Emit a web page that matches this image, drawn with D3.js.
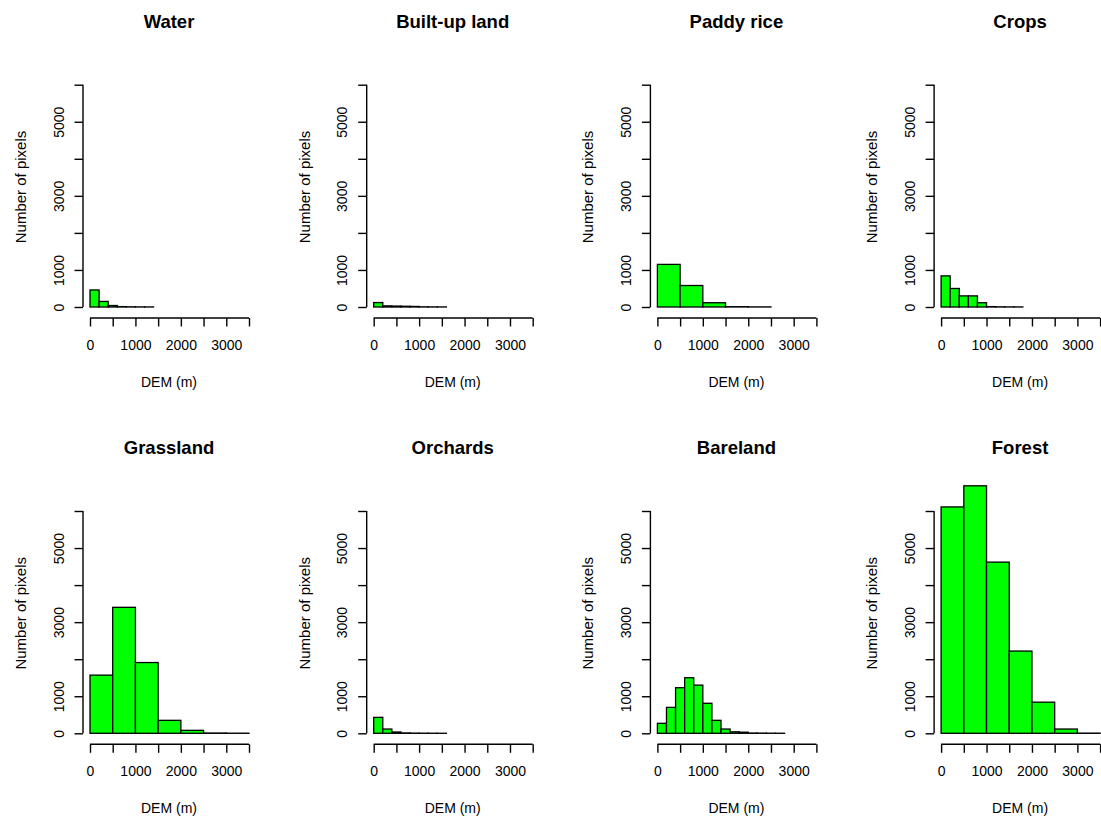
<!DOCTYPE html>
<html>
<head>
<meta charset="utf-8">
<script src="https://cdn.jsdelivr.net/npm/d3@7"></script>
<style>
  body { margin: 0; background: #fff; }
  svg { display: block; }
</style>
</head>
<body>
<svg id="chart"></svg>
<script>
// land cover classes, in panel order (row by row)
const classNames = ["Water", "Built-up land", "Paddy rice", "Crops",
                    "Grassland", "Orchards", "Bareland", "Forest"];

// histogram bin width (m) per class
const binWidths = [200, 200, 500, 200, 500, 200, 200, 500];

// pixel counts per bin, starting at 0 m
const waterCounts    = [460, 150, 40, 10, 5, 3, 2];
const builtupCounts  = [120, 30, 25, 20, 15, 5, 3, 2];
const paddyCounts    = [1150, 580, 115, 8, 3];
const cropsCounts    = [840, 500, 300, 300, 115, 10, 5, 3, 2];
const grassCounts    = [1570, 3400, 1910, 350, 80, 8, 3];
const orchardCounts  = [430, 115, 35, 10, 5, 3, 2, 1];
const barelandCounts = [270, 700, 1230, 1500, 1300, 810, 350, 115, 40, 30, 8, 5, 3, 2];
const forestCounts   = [6110, 6680, 4620, 2220, 840, 115, 5];

const allCounts = [waterCounts, builtupCounts, paddyCounts, cropsCounts,
                   grassCounts, orchardCounts, barelandCounts, forestCounts];

// axis ticks and the labels R kept
const xTicks = d3.range(0, 3501, 500);
const xLabels = [0, 1000, 2000, 3000];
const yTicks = d3.range(0, 6001, 1000);
const yLabels = [0, 1000, 3000, 5000];

const width = 1101, height = 821;
const svg = d3.select("#chart")
    .attr("width", width)
    .attr("height", height)
    .style("font-family", "'Liberation Sans', Arial, sans-serif");

const tick = 8.5;

classNames.forEach((name, i) => {
  const col = i % 4, row = Math.floor(i / 4);
  const x0 = 90 + 283.7 * col;   // pixel for 0 m
  const y0 = 307 + 426.3 * row;  // pixel for 0 count

  const x = d3.scaleLinear().domain([0, 3500]).range([x0, x0 + 159]);
  const y = d3.scaleLinear().domain([0, 6000]).range([y0, y0 - 222.3]);

  const g = svg.append("g").attr("class", "panel");

  // bars
  const w = binWidths[i];
  g.append("g")
    .selectAll("rect")
    .data(allCounts[i])
    .join("rect")
      .attr("x", (d, j) => x(j * w))
      .attr("width", (d, j) => x((j + 1) * w) - x(j * w))
      .attr("y", d => y(d))
      .attr("height", d => y0 - y(d))
      .attr("fill", "#00ff00")
      .attr("stroke", "#000")
      .attr("stroke-width", 1.3);

  // x axis (drawn below the plot like R)
  const xAxis = d3.axisBottom(x)
      .tickValues(xTicks)
      .tickSize(tick)
      .tickFormat(d => xLabels.includes(d) ? d : "");
  const gx = g.append("g")
      .attr("transform", `translate(0,${y0 + 11})`)
      .call(xAxis);
  gx.selectAll("text")
      .attr("y", 0)
      .attr("dy", 32)
      .style("font-size", "14px")
      .attr("fill", "#000");

  // y axis
  const yAxis = d3.axisLeft(y)
      .tickValues(yTicks)
      .tickSize(tick)
      .tickFormat(d => yLabels.includes(d) ? d : "");
  const gy = g.append("g")
      .attr("transform", `translate(${x0 - 7},0)`)
      .call(yAxis);
  gy.selectAll("text")
      .attr("x", 0)
      .attr("dy", 0)
      .attr("transform", "translate(-19.5,0) rotate(-90)")
      .attr("text-anchor", "middle")
      .style("font-size", "14px")
      .attr("fill", "#000");

  [gx, gy].forEach(a => {
    a.select(".domain").attr("stroke", "#000").attr("stroke-width", 1.4);
    a.selectAll(".tick line").attr("stroke", "#000").attr("stroke-width", 1.4);
  });
  // R draws the axis line only between the end ticks
  gx.select(".domain").attr("d", `M${x(0)},0H${x(3500)}`);
  gy.select(".domain").attr("d", `M0,${y(0)}V${y(6000)}`);

  // title
  g.append("text")
      .attr("x", x0 + 79)
      .attr("y", y0 - 279)
      .attr("text-anchor", "middle")
      .style("font-size", "18.5px")
      .style("font-weight", "bold")
      .text(name);

  // axis titles
  g.append("text")
      .attr("x", x0 + 79)
      .attr("y", y0 + 80)
      .attr("text-anchor", "middle")
      .style("font-size", "14px")
      .text("DEM (m)");

  g.append("text")
      .attr("transform", `translate(${x0 - 64},${y0 - 120}) rotate(-90)`)
      .attr("text-anchor", "middle")
      .style("font-size", "15px")
      .text("Number of pixels");
});
</script>
</body>
</html>
